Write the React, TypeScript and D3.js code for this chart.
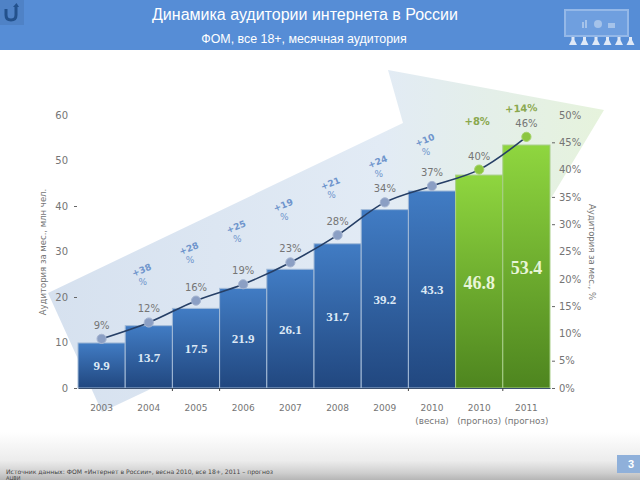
import React, { useEffect, useRef } from "react";
import * as d3 from "d3";

const categories = ["2003", "2004", "2005", "2006", "2007", "2008", "2009", "2010", "2010п", "2011"];
const tickLines1 = ["2003", "2004", "2005", "2006", "2007", "2008", "2009", "2010", "2010", "2011"];
const tickLines2 = ["", "", "", "", "", "", "", "(весна)", "(прогноз)", "(прогноз)"];
const audience = [9.9, 13.7, 17.5, 21.9, 26.1, 31.7, 39.2, 43.3, 46.8, 53.4];
const share = [9, 12, 16, 19, 23, 28, 34, 37, 40, 46];
const growth = ["", "+38", "+28", "+25", "+19", "+21", "+24", "+10", "+8%", "+14%"];
const forecast = [false, false, false, false, false, false, false, false, true, true];
const leftTicks = [0, 10, 20, 30, 40, 50, 60];
const leftMarks = [0, 20, 40];
const rightTicks = [0, 5, 10, 15, 20, 25, 30, 35, 40, 45, 50];
const rightMarks = [0, 5, 15, 30, 35, 45];
const bottomMarks = ["2005", "2006", "2010", "2011"];
const iconPeople = [0, 1, 2, 3, 4, 5];

const width = 640;
const height = 480;
const plot = { left: 78, right: 550, top: 115, bottom: 388 };
const axisFont = "'DejaVu Sans', sans-serif";
const textGray = "#757575";

export default function App() {
  const leftRef = useRef<SVGGElement>(null);
  const rightRef = useRef<SVGGElement>(null);
  const bottomRef = useRef<SVGGElement>(null);

  const x = d3.scaleBand().domain(categories).range([plot.left, plot.right]).padding(0);
  const yLeft = d3.scaleLinear().domain([0, 60]).range([plot.bottom, plot.top]);
  const yRight = d3.scaleLinear().domain([0, 50]).range([plot.bottom, plot.top]);
  const cx = (i: number) => (x(categories[i]) as number) + x.bandwidth() / 2;

  const line = d3
    .line<number>()
    .x((_, i) => cx(i))
    .y((d) => yRight(d))
    .curve(d3.curveCatmullRom.alpha(0.5));

  // growth labels climb along the arrow's upper edge
  const growthY = d3.scaleLinear().domain([1, 7]).range([273, 143]);

  useEffect(() => {
    const left = d3.select(leftRef.current);
    left.selectAll("*").remove();
    left.call(d3.axisLeft(yLeft).tickValues(leftTicks).tickSize(3).tickPadding(6) as any);
    left.select(".domain").remove();
    left.selectAll<SVGGElement, number>(".tick").each(function (d) {
      if (!leftMarks.includes(d)) d3.select(this).select("line").remove();
    });

    const right = d3.select(rightRef.current);
    right.selectAll("*").remove();
    right.call(
      d3.axisRight(yRight).tickValues(rightTicks).tickSize(3).tickPadding(4).tickFormat((d) => `${d}%`) as any
    );
    right.select(".domain").remove();
    right.selectAll<SVGGElement, number>(".tick").each(function (d) {
      if (!rightMarks.includes(d)) d3.select(this).select("line").remove();
    });

    const bottom = d3.select(bottomRef.current);
    bottom.selectAll("*").remove();
    bottom.call(d3.axisBottom(x).tickSize(0).tickFormat(() => "") as any);
    bottom.select(".domain").attr("stroke", "#3a4f6e");
    bottom.selectAll(".tick").remove();
    bottomMarks.forEach((c) => {
      const bx = x(c) as number;
      bottom.append("line").attr("x1", bx).attr("x2", bx).attr("y1", 0).attr("y2", 3).attr("stroke", "#444");
    });
    categories.forEach((c, i) => {
      bottom
        .append("text")
        .attr("x", cx(i))
        .attr("y", 23)
        .attr("text-anchor", "middle")
        .attr("fill", textGray)
        .attr("font-family", axisFont)
        .attr("font-size", 9)
        .text(tickLines1[i]);
      if (tickLines2[i]) {
        bottom
          .append("text")
          .attr("x", cx(i))
          .attr("y", 36)
          .attr("text-anchor", "middle")
          .attr("fill", textGray)
          .attr("font-family", axisFont)
          .attr("font-size", 8.8)
          .text(tickLines2[i]);
      }
    });

    [left, right].forEach((g) => {
      g.selectAll("text").attr("fill", textGray).attr("font-family", axisFont).attr("font-size", 10);
      g.selectAll("line").attr("stroke", "#666");
    });
  }, []);

  return (
    <svg
      width={width}
      height={height}
      viewBox={`0 0 ${width} ${height}`}
      style={{ position: "absolute", left: 0, top: 0, background: "#fff" }}
    >
      <defs>
        <linearGradient id="barBlue" x1="0" y1="0" x2="0" y2="1">
          <stop offset="0" stopColor="#417cc4" />
          <stop offset="1" stopColor="#21477f" />
        </linearGradient>
        <linearGradient id="barGreen" x1="0" y1="0" x2="0" y2="1">
          <stop offset="0" stopColor="#8fd63f" />
          <stop offset="1" stopColor="#4e851f" />
        </linearGradient>
        <linearGradient id="arrowFill" x1="0" y1="0" x2="1" y2="0">
          <stop offset="0" stopColor="#d6e1ef" />
          <stop offset="0.6" stopColor="#e2ebf5" />
          <stop offset="1" stopColor="#e6f3dc" />
        </linearGradient>
        <linearGradient id="footerFill" x1="0" y1="0" x2="0" y2="1">
          <stop offset="0" stopColor="#ffffff" />
          <stop offset="0.6" stopColor="#ececec" />
          <stop offset="0.85" stopColor="#cfcfcf" />
          <stop offset="1" stopColor="#b5b5b5" />
        </linearGradient>
      </defs>

      <rect x={0} y={432} width={width} height={48} fill="url(#footerFill)" />
      <polygon points="48,293 403,123 388,70 604,110 550,200 102,412" fill="url(#arrowFill)" />

      {/* header */}
      <rect x={0} y={0} width={width} height={50} fill="#568dd6" />
      <rect x={0} y={0} width={24} height={25} fill="#4f82c6" />
      <path d="M6,9 V15 Q6,20 11,20 Q16,20 16,15 V6" fill="none" stroke="#23518c" strokeWidth={3} />
      <path d="M13,7 L16.5,3 L19,7 Z" fill="#23518c" />
      {/* screen with audience */}
      <rect x={565} y={10} width={63} height={26} fill="#6f9fdf" stroke="#94b8e8" strokeWidth={2} />
      <g fill="#a5c3ea">
        <rect x={582} y={22} width={2} height={6} />
        <rect x={585} y={20} width={2} height={8} />
        <circle cx={598} cy={24} r={4} />
        <rect x={608} y={23} width={7} height={5} />
      </g>
      <g fill="#dfe9f7">
        {iconPeople.map((p) => (
          <path key={p} d={`M${569 + p * 11.5},45 l2.5,-5 v-3 h3 v3 l2.5,5 z`} />
        ))}
      </g>

      <text x={305} y={20} textAnchor="middle" fill="#fff" fontFamily="'Liberation Sans', sans-serif" fontSize={16}>
        Динамика аудитории интернета в России
      </text>
      <text x={304} y={43} textAnchor="middle" fill="#fff" fontFamily="'Liberation Sans', sans-serif" fontSize={12.4}>
        ФОМ, все 18+, месячная аудитория
      </text>

      {/* bars */}
      {audience.map((v, i) => (
        <g key={categories[i]}>
          <rect
            x={x(categories[i])}
            y={yLeft(v)}
            width={x.bandwidth()}
            height={plot.bottom - yLeft(v)}
            fill={forecast[i] ? "url(#barGreen)" : "url(#barBlue)"}
            stroke={forecast[i] ? "#a9cf8a" : "#a3bbd8"}
            strokeWidth={1}
          />
          <text
            x={cx(i)}
            y={(yLeft(v) + plot.bottom) / 2 + (forecast[i] ? 7 : 5)}
            textAnchor="middle"
            fill={forecast[i] ? "#e8f5d8" : "#dce8f5"}
            fontFamily="'Liberation Serif', serif"
            fontWeight="bold"
            fontSize={forecast[i] ? 18 : 13}
          >
            {v.toFixed(1)}
          </text>
        </g>
      ))}

      <g ref={bottomRef} transform={`translate(0,${plot.bottom})`} />
      <g ref={leftRef} transform={`translate(${plot.left - 1},0)`} />
      <g ref={rightRef} transform={`translate(${plot.right + 2},0)`} />

      {/* share line */}
      <path d={line(share) as string} fill="none" stroke="#263f66" strokeWidth={1.6} />
      {share.map((v, i) => (
        <g key={categories[i]}>
          <circle cx={cx(i)} cy={yRight(v)} r={4.6} fill={forecast[i] ? "#8cc63f" : "#8b9fc4"} stroke={forecast[i] ? "#a5d36a" : "#a6b5d1"} />
          <text x={cx(i)} y={yRight(v) - 10} textAnchor="middle" fill={textGray} fontFamily={axisFont} fontSize={10}>
            {v}%
          </text>
        </g>
      ))}

      {/* growth labels */}
      {growth.map((g, i) => {
        if (!g) return null;
        if (forecast[i]) {
          return (
            <text
              key={categories[i]}
              textAnchor="middle"
              transform={`translate(${cx(i) - 2 - (i - 8) * 3},${i === 8 ? yRight(share[i]) - 45 : yRight(share[i]) - 25}) rotate(${i === 8 ? 0 : -3})`}
              fill="#8aa84e"
              fontFamily={axisFont}
              fontWeight="bold"
              fontSize={10}
            >
              {g}
            </text>
          );
        }
        const gx = cx(i) - 6;
        const gy = growthY(i);
        return (
          <g key={categories[i]} fill="#6f95cc" fontFamily={axisFont} fontWeight="bold" fontSize={9}>
            <text textAnchor="middle" transform={`translate(${gx},${gy}) rotate(-22)`}>
              {g}
            </text>
            <text x={gx} y={gy + 12} textAnchor="middle" fontWeight="normal">
              %
            </text>
          </g>
        );
      })}

      {/* axis titles */}
      <text
        transform="translate(46,252) rotate(-90)"
        textAnchor="middle"
        fill={textGray}
        fontFamily={axisFont}
        fontSize={8.5}
      >
        Аудитория за мес.,  млн чел.
      </text>
      <text
        transform="translate(589,252) rotate(90)"
        textAnchor="middle"
        fill={textGray}
        fontFamily={axisFont}
        fontSize={8.5}
      >
        Аудитория за мес., %
      </text>

      {/* footer */}
      <text x={6} y={474} fill="#444" fontFamily={axisFont} fontSize={6.1}>
        Источник данных: ФОМ «Интернет в России», весна 2010, все 18+, 2011 – прогноз
      </text>
      <text x={6} y={479.5} fill="#444" fontFamily={axisFont} fontSize={5}>
        АЦВИ
      </text>
      <rect x={617} y={455} width={23} height={18} fill="#8fb0da" />
      <text x={631} y={468} textAnchor="middle" fill="#fff" fontFamily="'Liberation Sans', sans-serif" fontWeight="bold" fontSize={11}>
        3
      </text>
    </svg>
  );
}
